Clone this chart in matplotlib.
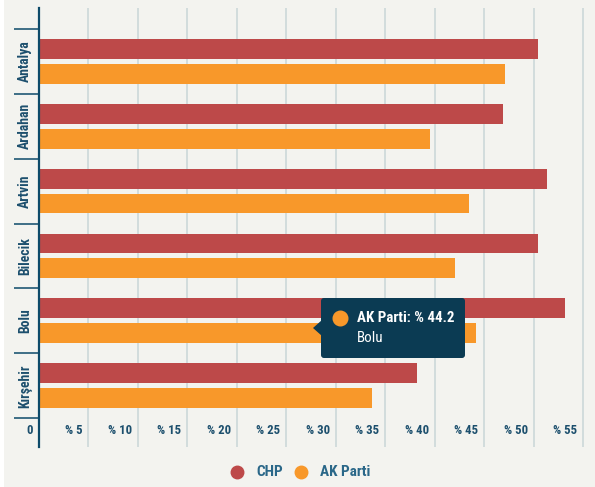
import matplotlib
matplotlib.use("Agg")
import matplotlib.pyplot as plt
import matplotlib.transforms as mtransforms
from matplotlib.patches import FancyBboxPatch, Polygon, Rectangle
from matplotlib.lines import Line2D
import numpy as np

# ---- data ----
categories = ["Antalya", "Ardahan", "Artvin", "Bilecik", "Bolu", "Kırşehir"]
chp = [50.4, 46.9, 51.3, 50.4, 53.2, 38.2]
ak_parti = [47.1, 39.5, 43.4, 42.0, 44.2, 33.6]
x_ticks = [0, 5, 10, 15, 20, 25, 30, 35, 40, 45, 50, 55]
x_tick_labels = ["0"] + ["%% %d" % v for v in x_ticks[1:]]
series_names = ["CHP", "AK Parti"]

# ---- style ----
W, H = 595, 487
BG = "#f3f3ef"
C_CHP = "#bd4949"
C_AK = "#f8982a"
AXIS = "#0d4a69"
GRID = "#c9d5d7"
TXT = "#1c4f6d"
LEG_TXT = "#2a6788"
TIP_BG = "#0b3b53"
FONT = ["Liberation Sans Narrow", "Roboto Condensed", "Liberation Sans", "DejaVu Sans"]
plt.rcParams["font.family"] = FONT

fig = plt.figure(figsize=(W / 100, H / 100), dpi=100)
fig.patch.set_facecolor("white")
px = mtransforms.Affine2D().scale(1 / W, -1 / H).translate(0, 1) + fig.transFigure
fig.patches.append(Rectangle((4, 0), W - 4, H, transform=px, facecolor=BG,
                             edgecolor="none", zorder=-10))

left, right, top, bottom = 39, 590, 8, 447
ax = fig.add_axes([left / W, 1 - bottom / H, (right - left) / W, (bottom - top) / H])
ax.set_facecolor("none")

pxu = (583.3 - 39) / 55.0
ax.set_xlim(0, (right - left) / pxu)
band = 65.0
ax.set_ylim(5.5 + (bottom - 418.3) / band, -0.5 - (28.7 - top) / band)

y = np.arange(len(categories))
off = 0.192
h = 20 / band
ax.barh(y - off, chp, height=h, color=C_CHP, zorder=3)
ax.barh(y + off, ak_parti, height=h, color=C_AK, zorder=3)

for s in ["top", "right", "bottom"]:
    ax.spines[s].set_visible(False)
ax.spines["left"].set_color(AXIS)
ax.spines["left"].set_linewidth(1.6)
ax.spines["left"].set_zorder(5)

ax.set_xticks(x_ticks[1:])
ax.tick_params(axis="x", length=0, labelbottom=False)
ax.grid(axis="x", color=GRID, linewidth=1.1, zorder=0)
ax.set_axisbelow(True)

ax.set_yticks(y)
ax.tick_params(axis="y", which="major", length=0, labelleft=False)
ax.set_yticks(np.arange(-0.5, len(categories), 1.0), minor=True)
ax.tick_params(axis="y", which="minor", length=18, width=1.1, color=AXIS, direction="out")

# category labels
tr_cat = mtransforms.blended_transform_factory(fig.transFigure, ax.transData)
for i, c in enumerate(categories):
    ax.text(25 / W, i, c, transform=tr_cat, rotation=90, ha="center", va="center",
            fontsize=9.9, fontweight="bold", color=TXT)

# x tick labels (placed left of their grid lines)
tr_x = mtransforms.blended_transform_factory(ax.transData, fig.transFigure) + \
    mtransforms.ScaledTranslation(-6 / 100, 0, fig.dpi_scale_trans)
for v, lab in zip(x_ticks, x_tick_labels):
    ax.text(v, 1 - 430 / H, lab, transform=tr_x, ha="right", va="center",
            fontsize=9.2, fontweight="bold", color=TXT)

# legend
leg = [(237, series_names[0], C_CHP), (301, series_names[1], C_AK)]
for cx, name, col in leg:
    fig.add_artist(Line2D([cx], [472], transform=px, marker="o", markersize=9,
                          color=col, linestyle="none"))
    fig.text((cx + 19) / W, 1 - 472 / H, name, ha="left", va="center",
             fontsize=11, fontweight="bold", color=LEG_TXT)

# tooltip
box = FancyBboxPatch((321, 298), 144, 60, boxstyle="round,pad=0,rounding_size=3",
                     transform=px, facecolor=TIP_BG, edgecolor="none", zorder=20)
fig.patches.append(box)
fig.patches.append(Polygon([(313, 328), (322, 320), (322, 336)], closed=True,
                           transform=px, facecolor=TIP_BG, edgecolor="none", zorder=20))
fig.add_artist(Line2D([340], [317.7], transform=px, marker="o", markersize=10.5,
                      color=C_AK, linestyle="none", zorder=21))
fig.text(357 / W, 1 - 317.5 / H, "%s: %% %.1f" % (series_names[1], ak_parti[4]),
         ha="left", va="center", fontsize=10.8, fontweight="bold", color="white", zorder=22)
fig.text(357 / W, 1 - 338 / H, categories[4], ha="left", va="center",
         fontsize=10.8, color="white", zorder=22)

fig.savefig("out.png", dpi=100, facecolor=fig.get_facecolor())
